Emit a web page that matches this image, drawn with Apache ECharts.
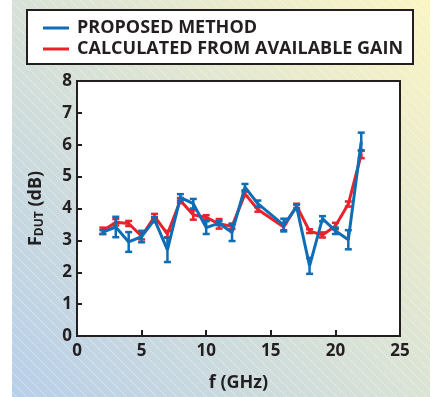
<!DOCTYPE html>
<html><head><meta charset="utf-8">
<script src="https://cdn.jsdelivr.net/npm/echarts@6/dist/echarts.min.js"></script>
<style>html,body{margin:0;padding:0;background:#fff}#c{width:433px;height:397px}</style>
</head><body><div id="c"></div>
<script>
const freq = [2,3,4,5,6,7,8,9,10,11,12,13,14,16,17,18,19,20,21,22];
const proposed = [3.26,3.42,2.95,3.12,3.65,2.7,4.35,4.15,3.4,3.54,3.25,4.67,4.15,3.48,4.05,2.2,3.68,3.3,3.02,6.1];
const proposedErr = [0.06,0.32,0.31,0.18,0.08,0.38,0.1,0.15,0.2,0.06,0.27,0.1,0.1,0.2,0.07,0.25,0.08,0.1,0.3,0.28];
const calculated = [3.3,3.57,3.53,3.13,3.75,3.2,4.25,3.8,3.72,3.52,3.44,4.46,3.97,3.42,4.08,3.29,3.17,3.45,4.14,5.7];
const calculatedErr = [0.1,0.1,0.08,0.1,0.08,0.1,0.08,0.15,0.07,0.15,0.08,0.07,0.07,0.1,0.07,0.06,0.08,0.1,0.08,0.12];
const xTicks = [0,5,10,15,20,25];
const yTicks = [0,1,2,3,4,5,6,7,8];
const seriesNames = ['PROPOSED METHOD','CALCULATED FROM AVAILABLE GAIN'];

const BLUE = '#0f6db5', RED = '#e8232b', INK = '#231f20';
const FONT = 'Open Sans';

const hatch = document.createElement('canvas');
hatch.width = 10; hatch.height = 10;
(function(){const g = hatch.getContext('2d');g.strokeStyle='rgba(255,255,255,0.45)';g.lineWidth=0.8;
g.beginPath();g.moveTo(0,0);g.lineTo(10,10);g.moveTo(-5,5);g.lineTo(5,15);g.moveTo(5,-5);g.lineTo(15,5);g.stroke();})();

function errData(vals, errs){ return freq.map((f,i)=>[f, vals[i]-errs[i], vals[i]+errs[i]]); }
function errRender(color){
  return function(params, api){
    const x = api.value(0);
    const lo = api.coord([x, api.value(1)]);
    const hi = api.coord([x, api.value(2)]);
    const w = 3.5;
    const st = {stroke: color, lineWidth: 2.5, fill: null};
    return {type:'group', children:[
      {type:'line', shape:{x1:lo[0],y1:lo[1],x2:hi[0],y2:hi[1]}, style:st},
      {type:'line', shape:{x1:lo[0]-w,y1:lo[1],x2:lo[0]+w,y2:lo[1]}, style:st},
      {type:'line', shape:{x1:hi[0]-w,y1:hi[1],x2:hi[0]+w,y2:hi[1]}, style:st}
    ]};
  };
}

const chart = echarts.init(document.getElementById('c'));
chart.setOption({
  animation:false,
  graphic:[
    {type:'rect', z:-10, shape:{x:12,y:0,width:418,height:397},
     style:{fill:new echarts.graphic.LinearGradient(0,1,1,0,[{offset:0,color:'#b8cfe9'},{offset:0.5,color:'#d9e2d6'},{offset:1,color:'#fbf5c3'}])}},
    {type:'rect', z:-9, shape:{x:12,y:0,width:418,height:397}, style:{fill:{image:hatch, repeat:'repeat'}}},
    {type:'rect', z:-5, shape:{x:27,y:10,width:386,height:54}, style:{fill:'#fff', stroke:INK, lineWidth:2}}
  ],
  legend:{
    left:38, top:14, orient:'vertical', itemGap:3,
    itemWidth:26, itemHeight:3,
    textStyle:{fontFamily:FONT, fontWeight:'bold', fontSize:18, color:INK, padding:[0,0,0,3]},
    data:[{name:seriesNames[0], icon:'rect'},{name:seriesNames[1], icon:'rect'}]
  },
  grid:{left:77, right:33, top:81, bottom:61, show:true, backgroundColor:'#fff', borderColor:INK, borderWidth:2},
  xAxis:{type:'value', min:xTicks[0], max:xTicks[xTicks.length-1], interval:5,
    name:'f (GHz)', nameLocation:'middle', nameGap:38,
    nameTextStyle:{fontFamily:FONT, fontWeight:'bold', fontSize:18, color:INK},
    axisLine:{lineStyle:{color:INK,width:2}},
    axisTick:{inside:true, length:6, lineStyle:{color:INK,width:2}},
    axisLabel:{fontFamily:FONT, fontWeight:'bold', fontSize:17, color:INK, margin:7},
    splitLine:{show:false}},
  yAxis:{type:'value', min:yTicks[0], max:yTicks[yTicks.length-1], interval:1,
    name:'{a|F}{b|DUT}{a| (dB)}', nameLocation:'middle', nameGap:31, nameRotate:90,
    nameTextStyle:{rich:{
      a:{fontFamily:FONT, fontWeight:'bold', fontSize:18, color:INK},
      b:{fontFamily:FONT, fontWeight:'bold', fontSize:12, color:INK, padding:[8,0,0,0]}}},
    axisLine:{lineStyle:{color:INK,width:2}},
    axisTick:{inside:true, length:5, lineStyle:{color:INK,width:2}},
    axisLabel:{fontFamily:FONT, fontWeight:'bold', fontSize:17, color:INK, margin:5},
    splitLine:{show:false}},
  series:[
    {name:seriesNames[1], type:'line', data:freq.map((f,i)=>[f,calculated[i]]), showSymbol:false, symbol:'none',
     lineStyle:{color:RED,width:3}, itemStyle:{color:RED}, z:2},
    {name:seriesNames[1]+'_e', type:'custom', data:errData(calculated,calculatedErr), renderItem:errRender(RED), z:2},
    {name:seriesNames[0], type:'line', data:freq.map((f,i)=>[f,proposed[i]]), showSymbol:false, symbol:'none',
     lineStyle:{color:BLUE,width:3}, itemStyle:{color:BLUE}, z:3},
    {name:seriesNames[0]+'_e', type:'custom', data:errData(proposed,proposedErr), renderItem:errRender(BLUE), z:3}
  ]
});
</script></body></html>
